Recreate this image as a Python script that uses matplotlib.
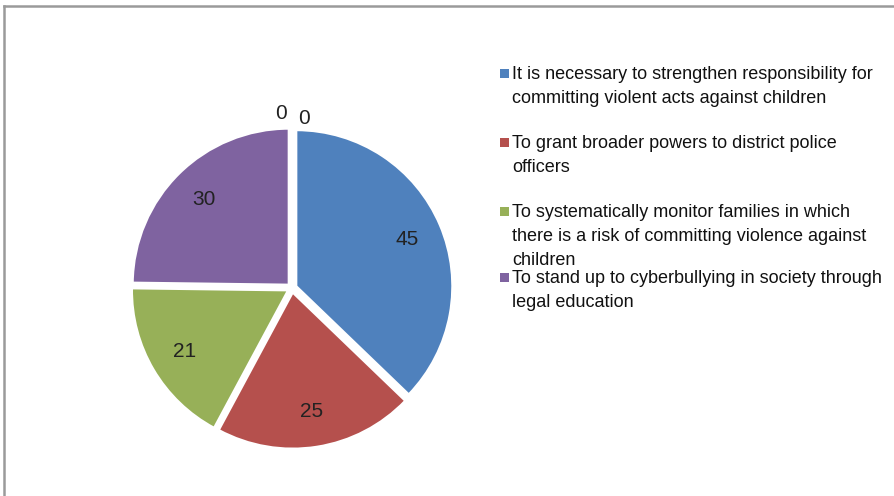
import numpy as np
import matplotlib.pyplot as plt
from matplotlib.patches import Rectangle
from matplotlib.lines import Line2D

# data
labels = ["It is necessary to strengthen responsibility for\ncommitting violent acts against children",
          "To grant broader powers to district police\nofficers",
          "To systematically monitor families in which\nthere is a risk of committing violence against\nchildren",
          "To stand up to cyberbullying in society through\nlegal education",
          "", ""]
values = [45, 25, 21, 30, 0, 0]
colors = ["#4F81BD", "#B5504D", "#97B058", "#7F63A0", "#4BACC6", "#F79646"]

plt.rcParams['font.family'] = ['Liberation Sans', 'DejaVu Sans']

W, H = 894, 496
fig = plt.figure(figsize=(W/100, H/100), dpi=100)

# pie placement (pixels)
cx, cy, R = 292, 288, 156
half = 200
ax = fig.add_axes([(cx-half)/W, (H-cy-half)/H, 2*half/W, 2*half/H])

nz = [i for i, v in enumerate(values) if v > 0]
wedges, _ = ax.pie([values[i] for i in nz], colors=[colors[i] for i in nz],
                   startangle=90, counterclock=False, explode=[0.03]*len(nz),
                   wedgeprops=dict(edgecolor="white", linewidth=1.5),
                   radius=1.0, center=(0, 0), frame=True)
ax.axis("off")
ax.set_aspect("equal")
ax.set_xlim(-half/R, half/R)
ax.set_ylim(-half/R, half/R)

for w, i in zip(wedges, nz):
    ang = np.deg2rad((w.theta1 + w.theta2) / 2)
    ax.text(0.8*np.cos(ang), 0.8*np.sin(ang), str(values[i]),
            ha="center", va="center", fontsize=15, color="#222222")

# zero-valued categories sit at the top of the pie
zeros = [i for i, v in enumerate(values) if v == 0]
for k, i in enumerate(zeros):
    ang = np.deg2rad(90 + 3.5 - 7.5*k)
    r = 1.12 - 0.03*k
    ax.text(r*np.cos(ang), r*np.sin(ang), str(values[i]),
            ha="center", va="center", fontsize=15, color="#222222")

# legend
ys = [74, 143, 212, 278]
for y, i in zip(ys, range(4)):
    fig.add_artist(Rectangle((500/W, 1-(y+4)/H), 9/W, 9/H, transform=fig.transFigure,
                             facecolor=colors[i], edgecolor="none"))
    fig.text(512/W, 1-(y-8)/H, labels[i], ha="left", va="top", fontsize=13,
             linespacing=1.52, color="#111111")

# chart border
fig.add_artist(Line2D([3.5/W, 3.5/W], [0, 1-5.5/H], transform=fig.transFigure,
                      color="#9a9a9a", lw=1.8))
fig.add_artist(Line2D([3.5/W, 1], [1-5.5/H, 1-5.5/H], transform=fig.transFigure,
                      color="#9a9a9a", lw=1.8))

fig.savefig("out.png", dpi=100)
